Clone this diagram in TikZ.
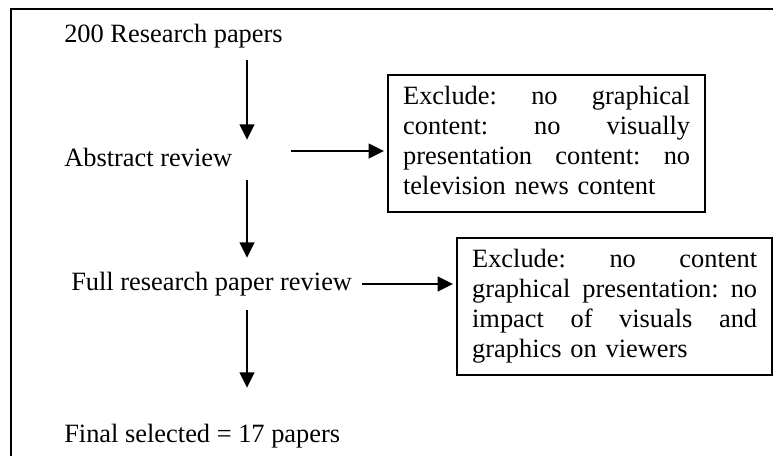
\documentclass[tikz,border=0pt]{standalone}
\usepackage{fontspec}
\setmainfont{Liberation Serif}
\usetikzlibrary{arrows.meta}

\begin{document}
\begin{tikzpicture}[x=0.75pt,y=-0.75pt,
    every node/.style={font=\fontsize{19.8pt}{22.5pt}\selectfont},
    stage/.style={anchor=base west,inner sep=0pt,text height=13.5pt,text depth=4.5pt},
    exbox/.style={draw,line width=1.7pt,anchor=north west,align=left,
      inner xsep=11.25pt,inner ysep=6.4pt},
    flow/.style={line width=1.7pt,-{Triangle[width=11pt,length=11.5pt]}}]
    \useasboundingbox (0,0) rectangle (773,456);
    % frame
    \draw[line width=1.7pt] (773,9) -- (11,9) -- (11,456);
    % stages
    \node[stage] (papers) at (64,43) {200 Research papers};
    \node[stage] (abstract) at (64,166) {Abstract review};
    \node[stage] (full) at (71,290) {Full research paper review};
    \node[stage] (final) at (64,442) {Final selected = 17 papers};
    % exclusion boxes
    \node[exbox,text width=215.25pt] (ex1) at (387,74)
      {\strut Exclude:\hfill no\hfill graphical\\
       content:\hfill no\hfill visually\\
       presentation\hfill content:\hfill no\\
       television news content\strut};
    \node[exbox,text width=213.75pt] (ex2) at (456,237)
      {\strut Exclude:\hfill no\hfill content\\
       graphical\hfill presentation:\hfill no\\
       impact\hfill of\hfill visuals\hfill and\\
       graphics on viewers\strut};
    % arrows
    \coordinate (spine) at (247,0);
    \draw[flow,shorten <=8.25pt,shorten >=6pt] (papers.south -| spine) -- (abstract.north -| spine);
    \draw[flow,shorten <=6pt,shorten >=10.5pt] (abstract.south -| spine) -- (full.north -| spine);
    \draw[flow,shorten <=10.5pt,shorten >=27pt] (full.south -| spine) -- (final.north -| spine);
    \coordinate (absout) at ([shift={(59,-9)}]abstract.east);
    \draw[flow,shorten >=2.25pt] (absout) -- (absout -| ex1.west);
    \draw[flow,shorten <=7.5pt,shorten >=2.25pt] (full.east) -- (full.east -| ex2.west);
\end{tikzpicture}
\end{document}
